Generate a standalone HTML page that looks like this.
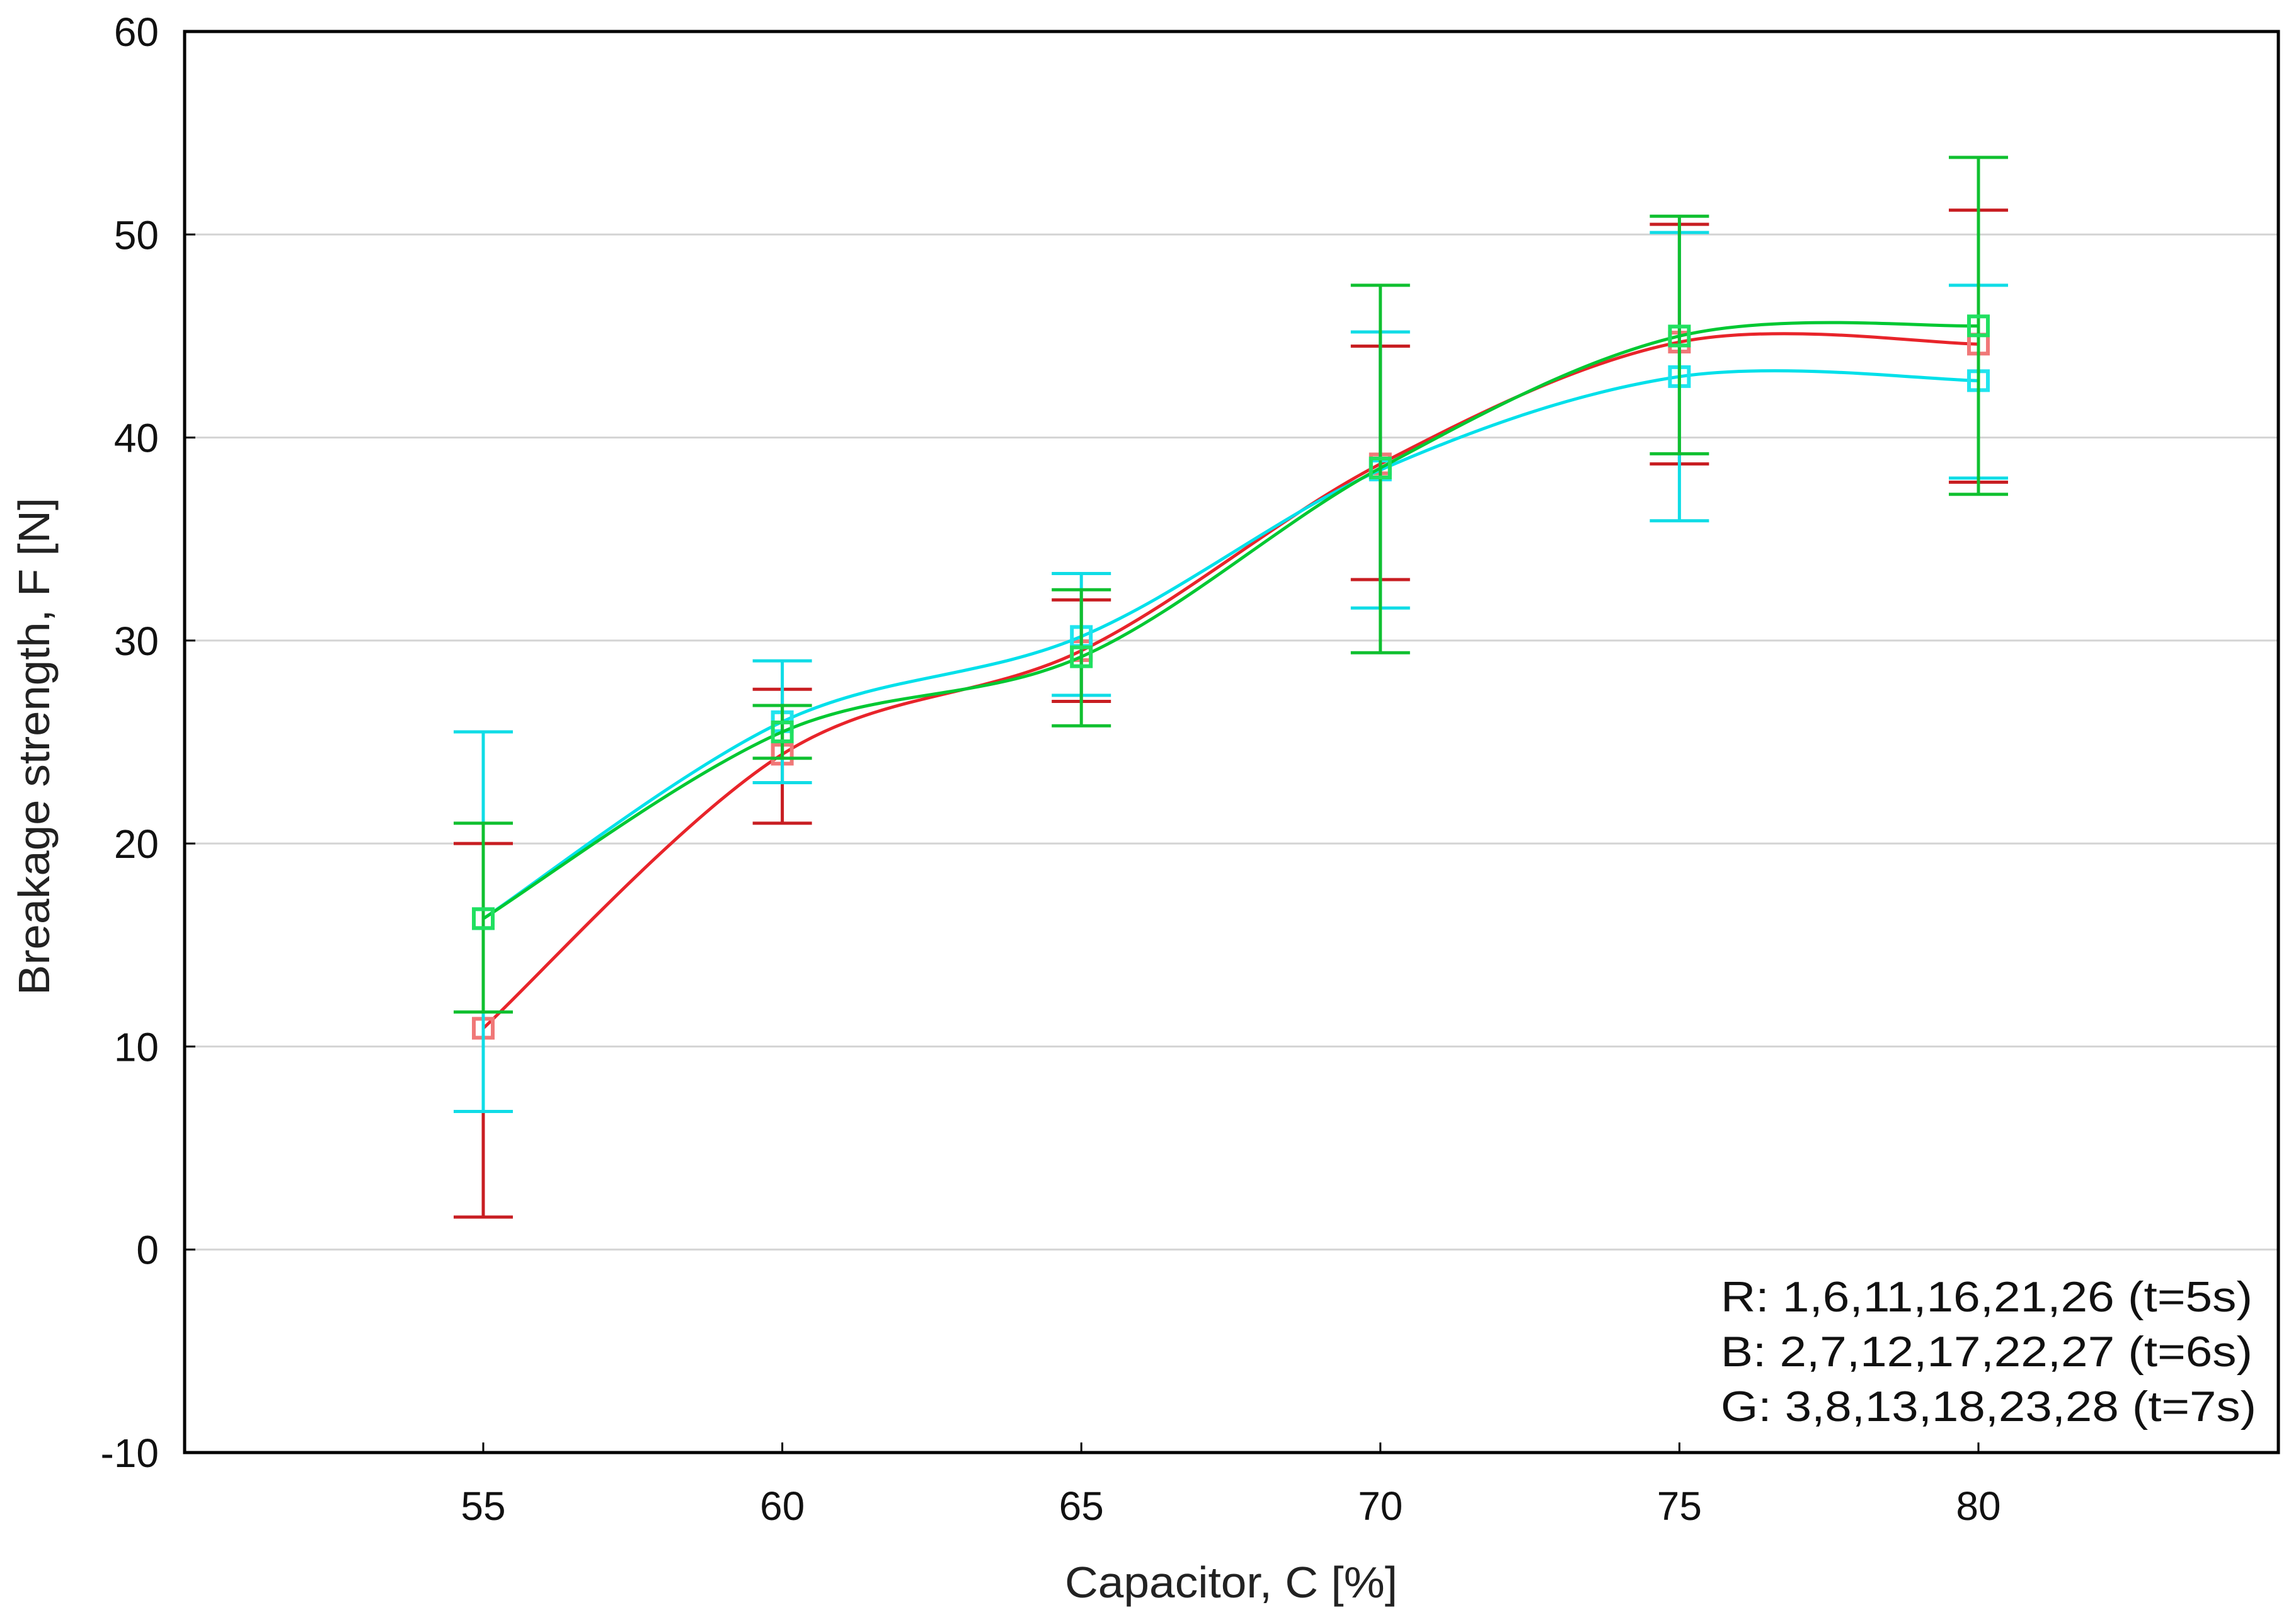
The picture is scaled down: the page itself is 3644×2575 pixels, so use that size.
<!DOCTYPE html>
<html><head><meta charset="utf-8"><style>
html,body{margin:0;padding:0;background:#fff;}
svg{display:block;font-family:"Liberation Sans",Arial,sans-serif;}
</style></head><body>
<svg id="chart" width="3644" height="2575" viewBox="0 0 3644 2575" xmlns="http://www.w3.org/2000/svg">
<g id="grid"></g>
<g id="series"></g>
<rect x="293" y="50" width="3323" height="2256" fill="none" stroke="#000" stroke-width="5"/>
<g id="ticks"></g>
<text x="1954" y="2536" font-size="70" text-anchor="middle" fill="#222" textLength="528" lengthAdjust="spacingAndGlyphs">Capacitor, C [%]</text>
<text transform="translate(78,1185) rotate(-90)" font-size="70" text-anchor="middle" fill="#222" textLength="790" lengthAdjust="spacingAndGlyphs">Breakage strength, F [N]</text>
<g font-size="68" fill="#111">
<text x="2731" y="2082" textLength="844" lengthAdjust="spacingAndGlyphs">R: 1,6,11,16,21,26 (t=5s)</text>
<text x="2731" y="2169" textLength="844" lengthAdjust="spacingAndGlyphs">B: 2,7,12,17,22,27 (t=6s)</text>
<text x="2731" y="2256" textLength="850" lengthAdjust="spacingAndGlyphs">G: 3,8,13,18,23,28 (t=7s)</text>
</g>
</svg>
<script>
const categories=[55,60,65,70,75,80];
const yTicks=[-10,0,10,20,30,40,50,60];
const redMean=[10.9,24.4,29.5,38.7,44.7,44.6];
const redLow=[1.6,21.0,27.0,33.0,38.7,37.8];
const redHigh=[20.0,27.6,32.0,44.5,50.5,51.2];
const cyanMean=[16.3,26.0,30.2,38.4,43.0,42.8];
const cyanLow=[6.8,23.0,27.3,31.6,35.9,38.0];
const cyanHigh=[25.5,29.0,33.3,45.2,50.1,47.5];
const greenMean=[16.3,25.5,29.2,38.5,45.0,45.5];
const greenLow=[11.7,24.2,25.8,29.4,39.2,37.2];
const greenHigh=[21.0,26.8,32.5,47.5,50.9,53.8];

const NS="http://www.w3.org/2000/svg";
function X(v){return 767+(v-55)*(3140-767)/25;}
function Y(v){return 50+(60-v)*(2306-50)/70;}
function mk(tag,attrs,parent){const e=document.createElementNS(NS,tag);for(const k in attrs)e.setAttribute(k,attrs[k]);parent.appendChild(e);return e;}
const grid=document.getElementById('grid'),ticks=document.getElementById('ticks'),ser=document.getElementById('series');
yTicks.forEach(t=>{
  if(t>-10&&t<60){const g=mk('line',{x1:293,x2:3616,y1:Y(t),y2:Y(t),stroke:'#d4d4d4','stroke-width':3},grid);
  
  }
  const l=mk('line',{x1:293,x2:310,y1:Y(t),y2:Y(t),stroke:'#000','stroke-width':3},ticks);
  
  
  const tx=mk('text',{x:252,y:Y(t)+23,'font-size':64,'text-anchor':'end',fill:'#111'},ticks);tx.textContent=t;
  
  
});
categories.forEach(c=>{
  const l=mk('line',{x1:X(c),x2:X(c),y1:2306,y2:2290,stroke:'#000','stroke-width':3},ticks);
  
  
  const tx=mk('text',{x:X(c),y:2413,'font-size':64,'text-anchor':'middle',fill:'#111'},ticks);tx.textContent=c;
  
  
});
function spline(pts){
  let d='M'+pts[0][0]+','+pts[0][1];
  for(let i=0;i<pts.length-1;i++){
    const p0=pts[Math.max(0,i-1)],p1=pts[i],p2=pts[i+1],p3=pts[Math.min(pts.length-1,i+2)];
    const c1=[p1[0]+(p2[0]-p0[0])/6,p1[1]+(p2[1]-p0[1])/6];
    const c2=[p2[0]-(p3[0]-p1[0])/6,p2[1]-(p3[1]-p1[1])/6];
    d+=' C'+c1[0]+','+c1[1]+' '+c2[0]+','+c2[1]+' '+p2[0]+','+p2[1];
  }
  return d;
}
function drawSeries(name,mean,low,high,lineCol,barCol,markCol){
  const g=mk('g',{},ser);
  
  
  categories.forEach((c,i)=>{
    const x=X(c);
    const v=mk('line',{x1:x,x2:x,y1:Y(low[i]),y2:Y(high[i]),stroke:barCol,'stroke-width':5},g);
    
    
    [low[i],high[i]].forEach(e=>{
      const cap=mk('line',{x1:x-47,x2:x+47,y1:Y(e),y2:Y(e),stroke:barCol,'stroke-width':5},g);
      
      
    });
  });
  const p=mk('path',{d:spline(categories.map((c,i)=>[X(c),Y(mean[i])])),fill:'none',stroke:lineCol,'stroke-width':5},g);
  
  
  categories.forEach((c,i)=>{
    const r=mk('rect',{x:X(c)-15,y:Y(mean[i])-15,width:30,height:30,fill:'none',stroke:markCol,'stroke-width':6},g);
    
    
  });
}
drawSeries('red',redMean,redLow,redHigh,'#e8242a','#c81e22','#f07878');
drawSeries('cyan',cyanMean,cyanLow,cyanHigh,'#00e0ea','#10dce6','#20e4ee');
drawSeries('green',greenMean,greenLow,greenHigh,'#00c832','#10c030','#20e060');
</script>
</body></html>
